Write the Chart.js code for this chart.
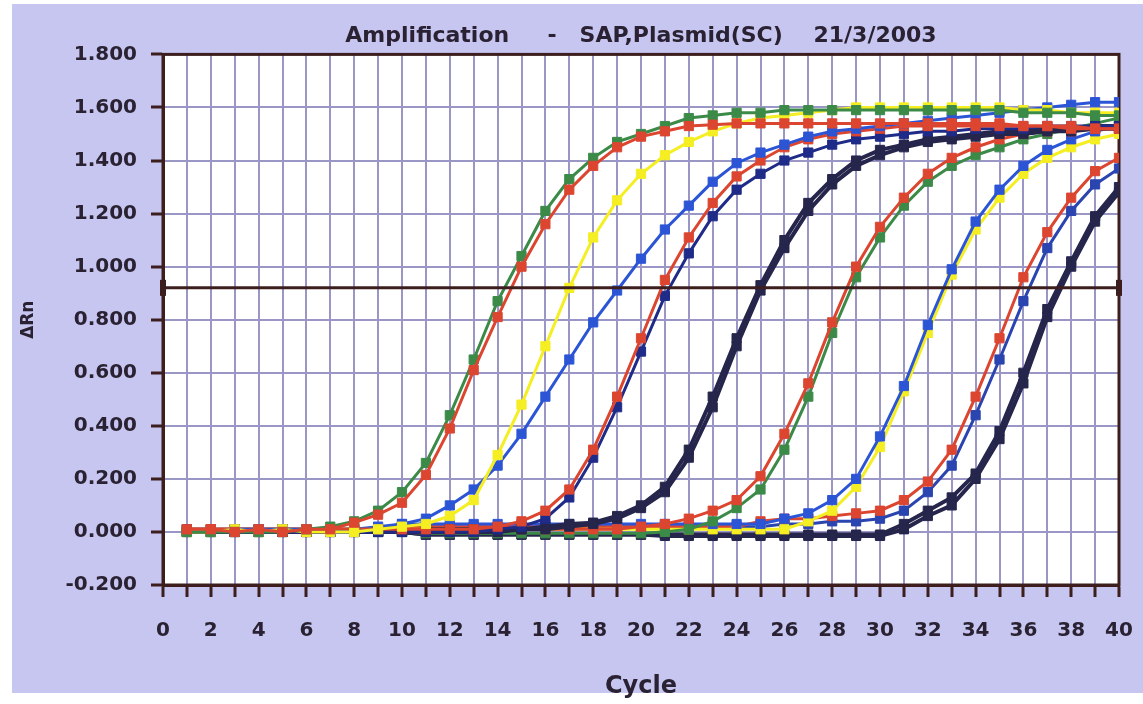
<!DOCTYPE html>
<html>
<head>
<meta charset="utf-8">
<script src="https://cdn.jsdelivr.net/npm/chart.js@4/dist/chart.umd.min.js"></script>
<style>
  html, body { margin: 0; padding: 0; background: #ffffff; }
  #wrap { width: 1143px; height: 704px; }
</style>
</head>
<body>
<div id="wrap"><canvas id="c" width="1143" height="704"></canvas></div>
<script>
// ---- data (cycle 1..40) ----
const cycles = Array.from({length: 40}, (_, i) => i + 1);
const threshold = 0.92;
const chartTitle = 'Amplification     -   SAP,Plasmid(SC)    21/3/2003';
const xTitle = 'Cycle';
const yTitle = 'ΔRn';

const aRed    = [0.01,0.01,0.00,0.01,0.00,0.01,0.01,0.035,0.065,0.11, 0.215,0.39,0.61,0.81,1.00,1.16,1.29,1.38,1.45,1.49, 1.51,1.53,1.535,1.54,1.54,1.54,1.54,1.54,1.54,1.54, 1.54,1.54,1.54,1.54,1.54,1.53,1.53,1.53,1.52,1.52];
const aGreen  = [0.00,0.00,0.00,0.00,0.00,0.01,0.02,0.04,0.08,0.15, 0.26,0.44,0.65,0.87,1.04,1.21,1.33,1.41,1.47,1.50, 1.53,1.56,1.57,1.58,1.58,1.59,1.59,1.59,1.59,1.59, 1.59,1.59,1.59,1.59,1.59,1.58,1.58,1.58,1.57,1.57];
const bYellow = [0.00,0.00,0.01,0.00,0.01,0.00,0.00,0.00,0.01,0.02, 0.03,0.06,0.12,0.29,0.48,0.70,0.92,1.11,1.25,1.35, 1.42,1.47,1.51,1.54,1.56,1.57,1.58,1.59,1.60,1.60, 1.60,1.60,1.60,1.60,1.60,1.59,1.59,1.58,1.58,1.58];
const bBlue   = [0.01,0.00,0.01,0.01,0.01,0.01,0.00,0.00,0.01,0.03, 0.05,0.10,0.16,0.25,0.37,0.51,0.65,0.79,0.91,1.03, 1.14,1.23,1.32,1.39,1.43,1.46,1.49,1.51,1.52,1.53, 1.54,1.55,1.56,1.57,1.58,1.59,1.60,1.61,1.62,1.62];
const cRed    = [0.01,0.01,0.01,0.01,0.01,0.01,0.01,0.01,0.01,0.01, 0.01,0.01,0.01,0.02,0.04,0.08,0.16,0.31,0.51,0.73, 0.95,1.11,1.24,1.34,1.40,1.45,1.48,1.50,1.51,1.52, 1.53,1.53,1.53,1.53,1.53,1.53,1.53,1.52,1.52,1.52];
const cNavy   = [0.00,0.00,0.00,0.00,0.00,0.00,0.00,0.00,0.00,0.00, 0.00,0.00,0.00,0.01,0.02,0.05,0.13,0.28,0.47,0.68, 0.89,1.05,1.19,1.29,1.35,1.40,1.43,1.46,1.48,1.49, 1.50,1.51,1.51,1.52,1.52,1.52,1.53,1.53,1.53,1.53];
const dDark1  = [0.00,0.00,0.00,0.00,0.00,0.00,0.00,0.00,0.00,0.00, 0.01,0.01,0.01,0.01,0.01,0.02,0.03,0.035,0.06,0.10, 0.17,0.31,0.51,0.73,0.93,1.10,1.24,1.33,1.40,1.44, 1.46,1.48,1.49,1.50,1.51,1.51,1.52,1.52,1.53,1.53];
const dDark2  = [0.00,0.00,0.00,0.00,0.00,0.00,0.00,0.00,0.00,0.00, 0.00,0.00,0.00,0.00,0.01,0.01,0.02,0.03,0.05,0.09, 0.15,0.28,0.47,0.70,0.91,1.07,1.21,1.31,1.38,1.42, 1.45,1.47,1.48,1.49,1.50,1.50,1.51,1.51,1.52,1.52];
const eRed    = [0.01,0.01,0.01,0.01,0.01,0.01,0.01,0.01,0.01,0.01, 0.01,0.01,0.01,0.01,0.01,0.01,0.01,0.01,0.01,0.02, 0.03,0.05,0.08,0.12,0.21,0.37,0.56,0.79,1.00,1.15, 1.26,1.35,1.41,1.45,1.48,1.50,1.51,1.51,1.52,1.52];
const eGreen  = [0.00,0.00,0.00,0.00,0.00,0.00,0.00,0.00,0.00,0.00, -0.005,-0.005,-0.005,-0.005,-0.005,-0.005,-0.005,-0.005,-0.005,-0.005, 0.00,0.01,0.04,0.09,0.16,0.31,0.51,0.75,0.96,1.11, 1.23,1.32,1.38,1.42,1.45,1.48,1.50,1.52,1.54,1.56];
const fBlue   = [0.01,0.01,0.01,0.01,0.01,0.01,0.01,0.01,0.02,0.03, 0.03,0.03,0.03,0.03,0.03,0.03,0.03,0.03,0.03,0.03, 0.03,0.03,0.03,0.03,0.03,0.05,0.07,0.12,0.20,0.36, 0.55,0.78,0.99,1.17,1.29,1.38,1.44,1.48,1.51,1.53];
const fYellow = [0.01,0.01,0.01,0.01,0.01,0.01,0.01,0.01,0.01,0.01, 0.01,0.01,0.01,0.01,0.01,0.01,0.01,0.01,0.01,0.01, 0.01,0.01,0.01,0.01,0.01,0.01,0.04,0.08,0.17,0.32, 0.53,0.75,0.97,1.14,1.26,1.35,1.41,1.45,1.48,1.50];
const gRed    = [0.01,0.01,0.01,0.01,0.01,0.01,0.01,0.01,0.01,0.02, 0.02,0.02,0.02,0.02,0.02,0.02,0.02,0.02,0.02,0.02, 0.02,0.02,0.02,0.02,0.04,0.05,0.05,0.06,0.07,0.08, 0.12,0.19,0.31,0.51,0.73,0.96,1.13,1.26,1.36,1.41];
const gBlue   = [0.01,0.01,0.01,0.01,0.01,0.01,0.01,0.01,0.01,0.02, 0.02,0.02,0.02,0.02,0.02,0.02,0.02,0.02,0.02,0.02, 0.02,0.02,0.02,0.02,0.02,0.03,0.03,0.04,0.04,0.05, 0.08,0.15,0.25,0.44,0.65,0.87,1.07,1.21,1.31,1.37];
const hDark1  = [0.00,0.00,0.00,0.00,0.00,0.00,0.00,0.00,0.00,0.00, -0.01,-0.01,-0.01,-0.01,-0.01,-0.01,-0.01,-0.01,-0.01,-0.01, -0.015,-0.015,-0.015,-0.015,-0.015,-0.015,-0.015,-0.015,-0.015,-0.015, 0.01,0.06,0.10,0.20,0.35,0.56,0.81,1.00,1.17,1.28];
const hDark2  = [0.00,0.00,0.00,0.00,0.00,0.00,0.00,0.00,0.00,0.00, -0.01,-0.01,-0.01,-0.01,-0.01,-0.01,-0.01,-0.01,-0.01,-0.01, -0.01,-0.01,-0.01,-0.01,-0.01,-0.01,-0.01,-0.01,-0.01,-0.01, 0.03,0.08,0.13,0.22,0.38,0.60,0.84,1.02,1.19,1.30];

// ---- styling ----
const RED = '#dc4630', GREEN = '#3c8a48', YELLOW = '#f4ee22', BLUE = '#2c55d6',
      MBLUE = '#2a44b0', NAVY = '#1f2b88', DARK = '#26264c';
const BORDER = '#3c1e1e', GRID = '#9a96c6', TEXT = '#2a2232';

function series(label, values, color, width) {
  return {
    label, data: values.map((v, i) => ({x: cycles[i], y: v})),
    borderColor: color, backgroundColor: color,
    borderWidth: width || 3, pointStyle: 'rect', pointRadius: 6.5,
    pointBorderWidth: 1, pointBorderColor: color, pointBackgroundColor: color,
    tension: 0
  };
}

const datasets = [
  series('A red', aRed, RED),
  series('A green', aGreen, GREEN),
  series('B yellow', bYellow, YELLOW),
  series('B blue', bBlue, BLUE),
  series('C red', cRed, RED),
  series('C navy', cNavy, NAVY),
  series('D dark 1', dDark1, DARK, 4),
  series('D dark 2', dDark2, DARK, 4),
  series('E red', eRed, RED),
  series('E green', eGreen, GREEN),
  series('F blue', fBlue, BLUE),
  series('F yellow', fYellow, YELLOW),
  series('G red', gRed, RED),
  series('G blue', gBlue, MBLUE),
  series('H dark 1', hDark1, DARK, 4),
  series('H dark 2', hDark2, DARK, 4),
  {
    label: 'Threshold', data: [{x: 0, y: threshold}, {x: 40, y: threshold}],
    borderColor: BORDER, backgroundColor: BORDER, borderWidth: 3,
    pointStyle: 'line', rotation: 90, pointRadius: 8, pointBorderWidth: 6,
    pointBorderColor: BORDER, clip: false, order: -1
  }
];

const framePlugin = {
  id: 'frame',
  beforeDraw(chart) {
    const ctx = chart.ctx, a = chart.chartArea;
    ctx.save();
    ctx.fillStyle = '#ffffff';
    ctx.fillRect(0, 0, chart.width, chart.height);
    ctx.fillStyle = '#c6c6f0';
    ctx.fillRect(12, 4, chart.width - 12, 689);
    ctx.fillStyle = '#ffffff';
    ctx.fillRect(a.left, a.top, a.right - a.left, a.bottom - a.top);
    ctx.restore();
  },
  beforeDatasetsDraw(chart) {
    const ctx = chart.ctx, a = chart.chartArea;
    ctx.save();
    ctx.strokeStyle = BORDER;
    ctx.lineWidth = 3;
    ctx.strokeRect(a.left, a.top, a.right - a.left, a.bottom - a.top);
    ctx.restore();
  }
};

Chart.defaults.font.family = "'DejaVu Sans', sans-serif";
Chart.defaults.color = TEXT;

new Chart(document.getElementById('c'), {
  type: 'line',
  data: { datasets },
  plugins: [framePlugin],
  options: {
    responsive: false,
    animation: false,
    layout: { padding: { left: 0, right: 24, top: 0, bottom: 0 } },
    plugins: {
      legend: { display: false },
      tooltip: { enabled: false },
      title: {
        display: true, text: chartTitle, fullSize: false, color: TEXT,
        font: { size: 22, weight: 'bold' }, padding: { top: 23, bottom: 5 }
      }
    },
    scales: {
      x: {
        type: 'linear', min: 0, max: 40,
        afterFit: s => { s.height = 119; s.paddingLeft = 0; s.paddingRight = 0; },
        ticks: {
          stepSize: 1, autoSkip: false, maxRotation: 0, padding: 22,
          color: TEXT, font: { size: 20, weight: 'bold' },
          callback: v => (v % 2 === 0 ? String(v) : '')
        },
        grid: { color: GRID, lineWidth: 2, tickColor: BORDER, tickLength: 12, tickWidth: 3 },
        border: { color: BORDER, width: 3 },
        title: { display: true, text: xTitle, color: TEXT, font: { size: 24, weight: 'bold' }, padding: { top: 0, bottom: 3 } }
      },
      y: {
        type: 'linear', min: -0.2, max: 1.8,
        afterFit: s => { s.width = 163; s.paddingTop = 0; s.paddingBottom = 0; },
        ticks: {
          stepSize: 0.2, padding: 14, color: TEXT, font: { size: 20, weight: 'bold' },
          callback: v => Number(v).toFixed(3)
        },
        grid: { color: GRID, lineWidth: 2, tickColor: BORDER, tickLength: 12, tickWidth: 3 },
        border: { color: BORDER, width: 3 },
        title: { display: true, text: yTitle, color: TEXT, font: { size: 17, weight: 'bold' }, padding: { top: 18, bottom: 0 } }
      }
    }
  }
});
</script>
</body>
</html>
